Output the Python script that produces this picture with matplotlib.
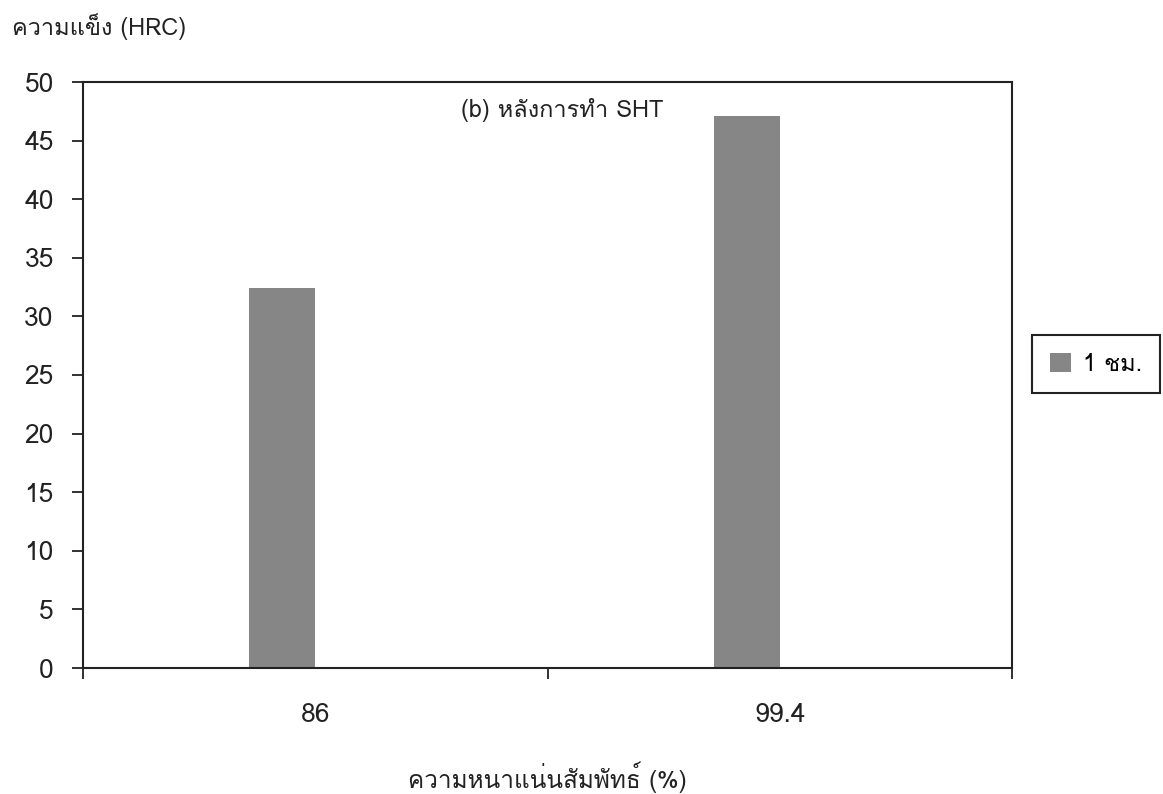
import matplotlib
matplotlib.use("Agg")
import matplotlib.pyplot as plt
from matplotlib import font_manager as fm
from matplotlib.ft2font import FT2Font

# ---- data ----
categories = ["86", "99.4"]
hardness = [32.4, 47.1]
series_label = "1 ชม."
y_ticks = [0, 5, 10, 15, 20, 25, 30, 35, 40, 45, 50]
title_text = "(b) หลังการทำ SHT"
ylabel_text = "ความแข็ง (HRC)"
xlabel_text = "ความหนาแน่นสัมพัทธ์ (%)"

# ---- find a font with Thai glyphs ----
thai_fams = []
for f in fm.fontManager.ttflist:
    try:
        cmap = FT2Font(f.fname).get_charmap()
        if 0x0E04 in cmap and 0x0E21 in cmap:
            if f.name not in thai_fams:
                thai_fams.append(f.name)
    except Exception:
        pass
families = thai_fams[:1] + ["DejaVu Sans"]
plt.rcParams["font.family"] = families

fig = plt.figure(figsize=(11.63, 7.94), dpi=100)
ax = fig.add_axes([83 / 1163, 1 - 668 / 794, (1012 - 83) / 1163, (668 - 82) / 794])

x = list(range(len(categories)))
bars = ax.bar(x, hardness, width=-0.142, align="edge", color="#868686",
              edgecolor="none", label=series_label)

ax.set_xlim(-0.5, len(categories) - 0.5)
ax.set_ylim(0, 50)
ax.set_yticks(y_ticks)
ax.tick_params(axis="y", direction="out", length=8, width=1.3, labelsize=19,
               pad=13, colors="#222222")
ax.set_xticks([i - 0.5 for i in range(len(categories) + 1)])
ax.set_xticklabels([])
ax.tick_params(axis="x", which="major", direction="out", length=8, width=1.3,
               colors="#222222")
ax.set_xticks(x, minor=True)
ax.set_xticklabels(categories, minor=True)
ax.tick_params(axis="x", which="minor", length=0, labelsize=19, pad=25,
               colors="#222222")
for s in ax.spines.values():
    s.set_linewidth(1.5)
    s.set_color("#222222")

ax.text(0.516, 0.952, title_text, transform=ax.transAxes, ha="center",
        va="center", fontsize=17, color="#222222")
fig.text(12 / 1163, 1 - 27 / 794, ylabel_text, ha="left", va="center",
         fontsize=17, color="#222222")
fig.text((83 + 1012) / 2 / 1163, 1 - 777 / 794, xlabel_text, ha="center",
         va="center", fontsize=17.5, color="#222222")

leg = fig.legend(handles=[bars], labels=[series_label], loc="upper left",
                 bbox_to_anchor=(1032 / 1163, 1 - 335 / 794), borderaxespad=0,
                 fancybox=False, framealpha=1, edgecolor="#222222",
                 fontsize=17, handlelength=0.9, handleheight=0.9,
                 handletextpad=0.5, borderpad=0.75)
leg.get_frame().set_linewidth(1.5)

fig.savefig("out.png", dpi=100)
